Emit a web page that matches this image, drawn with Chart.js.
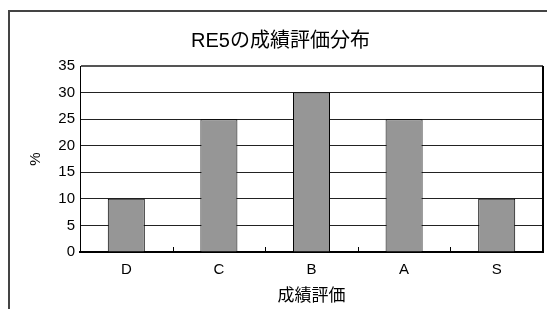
<!DOCTYPE html>
<html>
<head>
<meta charset="utf-8">
<script src="https://cdn.jsdelivr.net/npm/chart.js@4"></script>
<style>
  html, body { margin: 0; padding: 0; background: #fff; }
  #wrap { width: 547px; height: 309px; }
</style>
</head>
<body>
<div id="wrap"><canvas id="gradeChart" width="547" height="309"></canvas></div>
<script>
const grades = ['D', 'C', 'B', 'A', 'S'];
const percents = [10, 25, 30, 25, 10];
const yMax = 35;
const yStep = 5;

const fontFamily = '"Liberation Sans", "Noto Sans CJK JP", sans-serif';

// outer frame, plot border and inside tick marks
const framePlugin = {
    id: 'frame',
    beforeDraw(chart) {
        const ctx = chart.ctx;
        ctx.save();
        ctx.fillStyle = '#fff';
        ctx.fillRect(0, 0, chart.width, chart.height);
        ctx.strokeStyle = '#444';
        ctx.lineWidth = 2;
        ctx.strokeRect(9, 11, chart.width + 20, chart.height + 20);
        ctx.restore();
    },
    afterDatasetsDraw(chart) {
        const ctx = chart.ctx, a = chart.chartArea, x = chart.scales.x;
        ctx.save();
        ctx.strokeStyle = '#000';
        ctx.lineWidth = 2;
        ctx.beginPath();
        ctx.moveTo(a.right, a.top);
        ctx.lineTo(a.right, a.bottom);
        ctx.stroke();
        ctx.lineWidth = 1;
        for (let i = 1; i < grades.length; i++) {
            const px = Math.round((x.getPixelForTick(i - 1) + x.getPixelForTick(i)) / 2) + 0.5;
            ctx.beginPath();
            ctx.moveTo(px, a.bottom);
            ctx.lineTo(px, a.bottom - 5);
            ctx.stroke();
        }
        ctx.restore();
    }
};

new Chart(document.getElementById('gradeChart'), {
    type: 'bar',
    plugins: [framePlugin],
    data: {
        labels: grades,
        datasets: [
            {
                label: '%',
                data: percents,
                backgroundColor: '#969696',
                borderColor: '#000',
                borderWidth: 1,
                barPercentage: 0.4,
                categoryPercentage: 1.0
            }
        ]
    },
    options: {
        responsive: false,
        animation: false,
        layout: {
            padding: { left: 18, right: 4, top: 12, bottom: 0 }
        },
        plugins: {
            legend: { display: false },
            tooltip: { enabled: false },
            title: {
                display: true,
                text: 'RE5の成績評価分布',
                color: '#000',
                font: { family: fontFamily, size: 20, weight: 'normal' },
                padding: { top: 17, bottom: 13 }
            }
        },
        scales: {
            x: {
                afterFit(scale) { scale.height = 57; },
                grid: { display: false, drawTicks: false },
                border: { display: true, color: '#000', width: 2 },
                ticks: {
                    color: '#000',
                    padding: 9,
                    font: { family: fontFamily, size: 15 }
                },
                title: {
                    display: true,
                    text: '成績評価',
                    color: '#000',
                    font: { family: fontFamily, size: 17 },
                    padding: { top: 0, bottom: 2 }
                }
            },
            y: {
                min: 0,
                max: yMax,
                afterFit(scale) { scale.width = 62; },
                grid: {
                    drawTicks: false,
                    color: (c) => c.tick && c.tick.value === yMax ? '#555' : '#222',
                    lineWidth: (c) => c.tick && c.tick.value === yMax ? 2 : 1
                },
                border: { display: true, color: '#000', width: 1 },
                ticks: {
                    stepSize: yStep,
                    color: '#000',
                    padding: 5,
                    font: { family: fontFamily, size: 15 }
                },
                title: {
                    display: true,
                    text: '%',
                    color: '#000',
                    font: { family: fontFamily, size: 15 },
                    padding: { top: 9, bottom: 0 }
                }
            }
        }
    }
});
</script>
</body>
</html>
